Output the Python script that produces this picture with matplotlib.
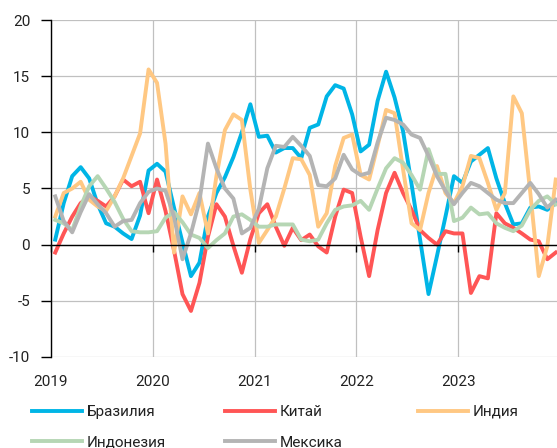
import numpy as np
import matplotlib.pyplot as plt

# monthly values, Jan 2019 - Dec 2023
brazil = [0.45, 3.7, 6.1, 6.9, 5.9, 3.6, 1.9, 1.6, 1.0, 0.5,
          2.6, 6.6, 7.2, 6.5, 3.3, 0.2, -2.8, -1.6, 2.5, 4.6,
          6.0, 7.8, 10.0, 12.5, 9.6, 9.7, 8.2, 8.6, 8.6, 7.7,
          10.4, 10.7, 13.2, 14.2, 13.9, 11.6, 8.3, 8.9, 12.8, 15.4,
          13.1, 10.1, 5.4, 0.5, -4.4, -1.0, 2.5, 6.1, 5.5, 7.4,
          8.0, 8.6, 5.9, 3.7, 1.8, 1.9, 3.3, 3.4, 3.1, 3.7]
china = [-0.7, 1.0, 2.5, 3.7, 4.3, 3.9, 3.4, 4.3, 5.8, 5.2,
         5.6, 2.8, 5.8, 3.0, -0.5, -4.4, -5.9, -3.4, 0.7, 3.6,
         2.5, -0.1, -2.5, 0.5, 2.8, 3.6, 1.6, -0.1, 1.5, 0.4,
         0.9, -0.15, -0.7, 2.5, 4.9, 4.6, 0.7, -2.8, 1.3, 4.6,
         6.4, 4.6, 3.1, 1.3, 0.6, 0.0, 1.2, 1.0, 1.0, -4.3,
         -2.8, -3.0, 2.8, 1.9, 1.5, 1.0, 0.45, 0.3, -1.3, -0.7]
india = [2.5, 4.6, 5.0, 5.6, 4.0, 3.4, 3.0, 4.3, 5.9, 7.9,
         9.9, 15.6, 14.4, 9.0, -0.7, 4.3, 2.7, 4.6, 1.0, 6.1,
         10.2, 11.6, 11.1, 4.9, 0.15, 1.3, 2.5, 5.0, 7.7, 7.6,
         6.2, 1.6, 2.8, 7.0, 9.5, 9.8, 6.2, 5.8, 8.8, 12.0,
         11.7, 6.7, 1.9, 1.3, 4.6, 7.0, 4.6, 3.7, 5.2, 7.9,
         7.7, 5.5, 3.1, 4.6, 13.2, 11.7, 4.6, -2.8, -0.15, 5.8]
indonesia = [2.2, 1.9, 1.3, 3.4, 5.2, 6.1, 5.0, 3.8, 2.3, 1.2,
             1.1, 1.1, 1.2, 2.4, 2.9, 2.0, 0.9, 0.6, -0.3, 0.4,
             1.0, 2.5, 2.7, 2.2, 1.6, 1.6, 1.8, 1.8, 1.8, 0.45,
             0.3, 0.45, 1.9, 3.1, 3.4, 3.5, 3.9, 3.1, 5.0, 6.8,
             7.7, 7.3, 6.2, 4.9, 8.5, 6.3, 6.3, 2.1, 2.4, 3.3,
             2.7, 2.8, 1.9, 1.5, 1.2, 1.7, 3.1, 3.9, 4.3, 3.6]
mexico = [4.3, 2.1, 1.1, 2.9, 4.5, 3.6, 2.8, 1.6, 2.1, 2.2,
          3.7, 4.7, 5.0, 4.8, 2.5, -1.3, 1.0, 3.9, 9.0, 6.8,
          5.0, 4.1, 1.0, 1.5, 3.2, 6.8, 8.8, 8.7, 9.6, 8.8,
          7.9, 5.3, 5.2, 5.9, 8.0, 6.7, 6.2, 6.4, 9.1, 11.3,
          11.1, 10.7, 9.8, 9.5, 7.9, 6.1, 4.8, 3.6, 4.6, 5.5,
          5.2, 4.6, 4.0, 3.7, 3.7, 4.6, 5.5, 4.5, 3.3, 4.0]

years = [2019, 2020, 2021, 2022, 2023]
names = ['Бразилия', 'Китай', 'Индия', 'Индонезия', 'Мексика']
colors = ['#00B5E6', '#FF5555', '#FFC883', '#B6D6B4', '#B4B4B4']

# points sit in the middle of each month
x = 2019 + (np.arange(len(brazil)) + 0.5) / 12

plt.rcParams['font.family'] = ['Roboto', 'DejaVu Sans']
plt.rcParams['font.size'] = 11
plt.rcParams['axes.unicode_minus'] = False

fig = plt.figure(figsize=(5.57, 4.48), dpi=100)
ax = fig.add_axes([51 / 557, 1 - 357 / 448, 509 / 557, 337 / 448])

lines = []
for vals, col in zip([brazil, china, india, indonesia, mexico], colors):
    ln, = ax.plot(x, vals, color=col, lw=2.8)
    lines.append(ln)

ax.set_xlim(2019, 2024)
ax.set_ylim(-10, 20)
ax.set_yticks(range(-10, 25, 5))
ax.set_xticks(years)
ax.grid(color='#C0C0C0', lw=0.9)
ax.set_axisbelow(True)

for s in ['top', 'right']:
    ax.spines[s].set_visible(False)
ax.spines['left'].set_linewidth(1.0)
ax.spines['bottom'].set_position(('data', 0))
ax.spines['bottom'].set_linewidth(1.0)
ax.tick_params(axis='x', direction='out', length=5, width=1, labelbottom=False)
ax.tick_params(axis='y', direction='out', length=7, width=1, pad=8, labelsize=11, labelcolor='#222222')

# year labels under the plot area
sec = ax.secondary_xaxis('bottom')
sec.set_xticks(years)
sec.tick_params(length=0, pad=13, labelsize=11, labelcolor='#222222')
sec.spines['bottom'].set_visible(False)

# legend in three columns
cols = [(32, [0, 3]), (225, [1, 4]), (418, [2])]
for px, idx in cols:
    fig.legend([lines[i] for i in idx], [names[i] for i in idx],
               loc='upper left', bbox_to_anchor=(px / 557, 1 - 405 / 448),
               frameon=False, borderpad=0, borderaxespad=0,
               handlelength=3.3, handletextpad=0.3, labelspacing=1.1,
               fontsize=11, labelcolor='#222222')

fig.savefig('out.png', dpi=100)
